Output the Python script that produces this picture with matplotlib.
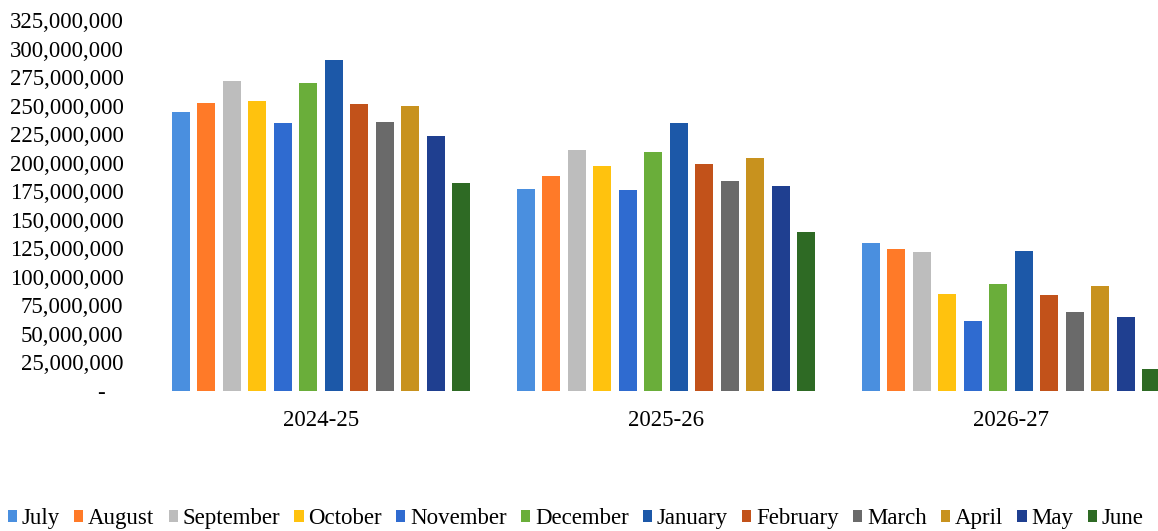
import matplotlib.pyplot as plt
import numpy as np
from matplotlib.ticker import FuncFormatter, MultipleLocator

years = ["2024-25", "2025-26", "2026-27"]
months = ["July", "August", "September", "October", "November", "December",
          "January", "February", "March", "April", "May", "June"]

# values per month, one entry per year
july = [244e6, 177e6, 130e6]
august = [252e6, 188e6, 124e6]
september = [272e6, 211e6, 121.5e6]
october = [254e6, 197e6, 85e6]
november = [234.5e6, 176e6, 61.5e6]
december = [270e6, 209e6, 93.5e6]
january = [290e6, 235e6, 122.6e6]
february = [251e6, 199e6, 84e6]
march = [236e6, 184e6, 69e6]
april = [250e6, 204e6, 92e6]
may = [223e6, 179.5e6, 65e6]
june = [182e6, 139e6, 19.5e6]

series = [july, august, september, october, november, december,
          january, february, march, april, may, june]
colors = ["#4A8FDF", "#FF7A28", "#BDBDBD", "#FFC20E", "#2F6BD0", "#6AAE3A",
          "#1C58A8", "#C2521A", "#6A6A6A", "#C8921E", "#1F3F90", "#2E6A24"]

plt.rcParams['font.family'] = ['Liberation Serif', 'DejaVu Serif']

fig = plt.figure(figsize=(11.58, 5.31), dpi=100)
ax = fig.add_axes([148.5 / 1158, 140 / 531, (1158 - 148.5) / 1158, 371 / 531])

x = np.arange(len(years))
pitch = 0.0738
width = 0.052
for i, (name, vals) in enumerate(zip(months, series)):
    ax.bar(x + (i - 5.5) * pitch, vals, width, color=colors[i], label=name)

ax.set_xlim(-0.5, -0.5 + (1158 - 148.5) / 345)
ax.set_ylim(0, 325e6)
ax.yaxis.set_major_locator(MultipleLocator(25e6))
ax.yaxis.set_major_formatter(FuncFormatter(lambda v, p: '-   ' if v == 0 else f'{v:,.0f}'))
ax.set_xticks(x)
ax.set_xticklabels(years)
ax.tick_params(axis='y', length=0, pad=18, labelsize=16.5)
ax.tick_params(axis='x', length=0, pad=14, labelsize=16.5)
for s in ax.spines.values():
    s.set_visible(False)

fig.legend(loc='lower center', bbox_to_anchor=(0.497, -0.022), ncol=12, frameon=False,
           fontsize=16.5, handlelength=0.4, handleheight=0.4, handletextpad=0.2,
           columnspacing=0.63, borderaxespad=0.2)

fig.savefig("out.png", dpi=100)
